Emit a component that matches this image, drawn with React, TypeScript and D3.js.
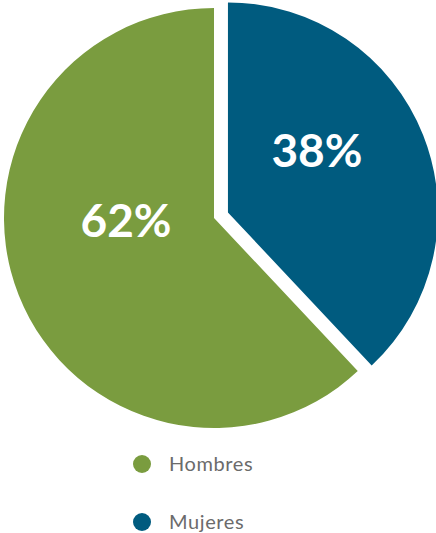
import React from "react";
import * as d3 from "d3";

const categories = ["Mujeres", "Hombres"];
const values = [38, 62];
const colors = ["#005b7f", "#7a9c3f"];
const legendOrder = ["Hombres", "Mujeres"];

const W = 436;
const H = 533;

export default function App() {
  const cx = 214;
  const cy = 218;
  const r = 210;
  const explode = 15;

  const pie = d3.pie<number>().sort(null).value((d) => d)(values);
  const arc = d3.arc<d3.PieArcDatum<number>>().innerRadius(0).outerRadius(r);

  const labelOffsets = [
    { dx: 89, dy: -45 },
    { dx: -88, dy: 19 },
  ];

  const legendY = d3.scalePoint<string>().domain(legendOrder).range([464, 522]);
  const colorScale = d3.scaleOrdinal<string, string>().domain(categories).range(colors);

  return (
    <div style={{ position: "absolute", left: 0, top: 0 }}>
      <svg width={W} height={H} style={{ display: "block" }}>
        <rect width={W} height={H} fill="#ffffff" />
        {pie.map((p, i) => {
          const mid = (p.startAngle + p.endAngle) / 2;
          const ox = i === 0 ? Math.sin(mid) * explode : 0;
          const oy = i === 0 ? -Math.cos(mid) * explode : 0;
          return (
            <g key={categories[i]} transform={`translate(${cx + ox},${cy + oy})`}>
              <path d={arc(p) || ""} fill={colors[i]} />
              <text
                x={labelOffsets[i].dx}
                y={labelOffsets[i].dy}
                textAnchor="middle"
                fill="#ffffff"
                fontFamily="Lato, 'Open Sans', sans-serif"
                fontWeight={700}
                fontSize={46}
              >
                {values[i]}%
              </text>
            </g>
          );
        })}
        {legendOrder.map((name) => (
          <g key={name} transform={`translate(0,${legendY(name)})`}>
            <circle cx={142} cy={0} r={9} fill={colorScale(name)} />
            <text
              x={169}
              y={7}
              fill="#6b6b6b"
              fontFamily="Lato, 'Open Sans', sans-serif"
              fontSize={20}
              letterSpacing={0.6}
            >
              {name}
            </text>
          </g>
        ))}
      </svg>
    </div>
  );
}
